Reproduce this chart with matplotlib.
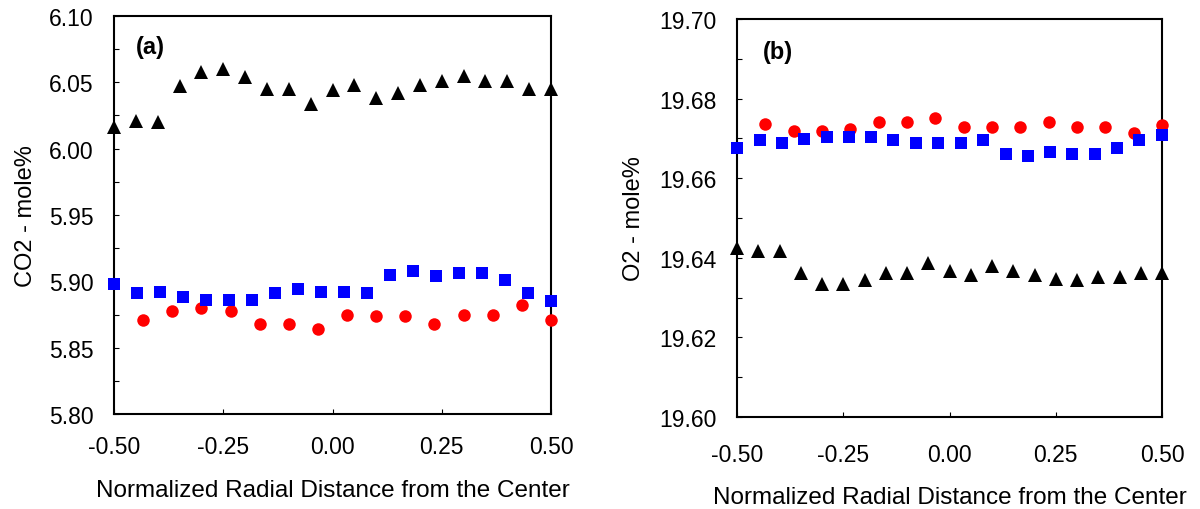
import numpy as np
import matplotlib
matplotlib.use('Agg')
import matplotlib.pyplot as plt
from matplotlib.ticker import MultipleLocator

plt.rcParams['font.family'] = ['Liberation Sans', 'DejaVu Sans']

# x positions of the three measurement grids
x_tri = [-0.50, -0.45, -0.40, -0.35, -0.30, -0.25, -0.20, -0.15, -0.10, -0.05, 0.00,
         0.05, 0.10, 0.15, 0.20, 0.25, 0.30, 0.35, 0.40, 0.45, 0.50]
x_sq = [-0.500, -0.447, -0.395, -0.342, -0.289, -0.237, -0.184, -0.132, -0.079, -0.026,
        0.026, 0.079, 0.132, 0.184, 0.237, 0.289, 0.342, 0.395, 0.447, 0.500]
x_circ = [-0.433, -0.367, -0.300, -0.233, -0.167, -0.100, -0.033, 0.033,
          0.100, 0.167, 0.233, 0.300, 0.367, 0.433, 0.500]

# (a) CO2 mole%
co2_tri = [6.016, 6.021, 6.020, 6.047, 6.058, 6.060, 6.054, 6.045, 6.045, 6.034, 6.044,
           6.048, 6.038, 6.042, 6.048, 6.051, 6.055, 6.051, 6.051, 6.045, 6.045]
co2_sq = [5.898, 5.891, 5.892, 5.888, 5.886, 5.886, 5.886, 5.891, 5.894, 5.892,
          5.892, 5.891, 5.905, 5.908, 5.904, 5.906, 5.906, 5.901, 5.891, 5.885]
co2_circ = [5.871, 5.878, 5.880, 5.878, 5.868, 5.868, 5.864, 5.875, 5.874, 5.874,
            5.868, 5.875, 5.875, 5.882, 5.871]

# (b) O2 mole%
o2_tri = [19.6425, 19.6416, 19.6416, 19.6362, 19.6335, 19.6335, 19.6343, 19.6362, 19.6362,
          19.6387, 19.6367, 19.6358, 19.6379, 19.6367, 19.6358, 19.6347, 19.6343, 19.6353,
          19.6353, 19.6362, 19.6362]
o2_sq = [19.6675, 19.6695, 19.6689, 19.6699, 19.6704, 19.6704, 19.6704, 19.6695, 19.6689,
         19.6689, 19.6689, 19.6695, 19.6662, 19.6657, 19.6666, 19.6662, 19.6662, 19.6675,
         19.6695, 19.6709]
o2_circ = [19.6737, 19.6718, 19.6718, 19.6723, 19.6741, 19.6741, 19.6751, 19.6728, 19.6728,
           19.6728, 19.6741, 19.6728, 19.6728, 19.6713, 19.6733]

fig = plt.figure(figsize=(12, 5.1), dpi=100)
ax1 = fig.add_axes([114 / 1200, 1 - 415 / 510, 437 / 1200, 398 / 510])
ax2 = fig.add_axes([737 / 1200, 1 - 418 / 510, 425 / 1200, 398 / 510])

panels = [
    (ax1, co2_tri, co2_sq, co2_circ, (5.80, 6.10), 0.05, 0.025, 'CO2 - mole%', '(a)',
     (0.05, 0.924), 15, 15, 9),
    (ax2, o2_tri, o2_sq, o2_circ, (19.60, 19.70), 0.02, 0.01, 'O2 - mole%', '(b)',
     (0.061, 0.919), 18.5, 14.5, 10.5),
]

for ax, tri, sq, circ, ylim, major, minor, ylab, tag, tagpos, xpad, xlpad, ylpad in panels:
    ax.plot(x_circ, circ, 'o', color='#ff0000', markersize=9, markeredgewidth=0, clip_on=False, zorder=3)
    ax.plot(x_sq, sq, 's', color='#0000ff', markersize=9, markeredgewidth=0, clip_on=False, zorder=4)
    ax.plot(x_tri, tri, '^', color='black', markersize=10.5, markeredgewidth=0, clip_on=False, zorder=5)

    ax.set_xlim(-0.5, 0.5)
    ax.set_ylim(*ylim)
    ax.xaxis.set_major_locator(MultipleLocator(0.25))
    ax.yaxis.set_major_locator(MultipleLocator(major))
    ax.yaxis.set_minor_locator(MultipleLocator(minor))
    ax.xaxis.set_major_formatter(plt.FormatStrFormatter('%.2f'))
    ax.yaxis.set_major_formatter(plt.FormatStrFormatter('%.2f'))
    ax.tick_params(which='both', direction='in', length=3.8, width=0.8, labelsize=16.5,
                   top=False, right=False)
    ax.tick_params(axis='y', pad=14.5)
    ax.tick_params(axis='x', pad=xpad)
    for s in ax.spines.values():
        s.set_linewidth(1.5)

    ax.set_xlabel('Normalized Radial Distance from the Center', fontsize=17.5, labelpad=xlpad)
    ax.set_ylabel(ylab, fontsize=17, labelpad=ylpad)
    ax.text(tagpos[0], tagpos[1], tag, transform=ax.transAxes, fontsize=17, fontweight='bold',
            ha='left', va='center')

fig.savefig('out.png', dpi=100)
